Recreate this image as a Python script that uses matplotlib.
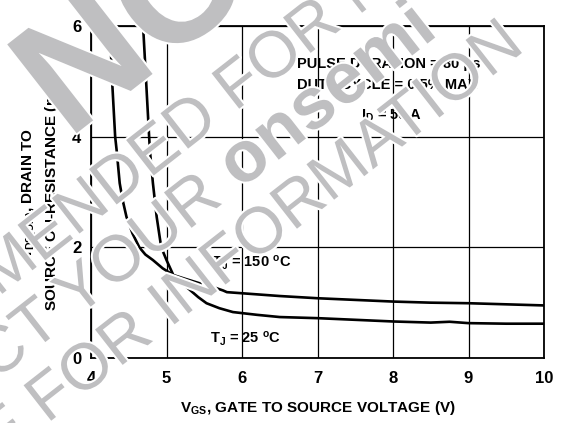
import matplotlib
matplotlib.use("Agg")
import matplotlib.pyplot as plt
import matplotlib.patheffects as pe
import math

# ---- data ----
vgs_25 = [4.25, 4.28, 4.32, 4.34, 4.38, 4.42, 4.47, 4.55, 4.64, 4.72, 4.82, 4.95, 5.09,
          5.20, 5.31, 5.42, 5.53, 5.70, 5.88, 6.2, 6.5, 7.0, 7.5, 8.0, 8.5, 8.75, 9.0, 9.5, 10.0]
r_25 = [6.0, 5.0, 4.0, 3.75, 3.16, 2.85, 2.55, 2.25, 2.0, 1.87, 1.77, 1.62, 1.5,
        1.36, 1.23, 1.10, 0.99, 0.90, 0.83, 0.78, 0.74, 0.72, 0.69, 0.66, 0.64, 0.655, 0.63, 0.62, 0.62]

vgs_150 = [4.69, 4.73, 4.77, 4.78, 4.82, 4.87, 4.93, 5.0, 5.09, 5.25, 5.44, 5.6, 5.75,
           5.8, 6.0, 6.5, 7.0, 7.5, 8.0, 8.5, 9.0, 9.5, 10.0]
r_150 = [6.0, 5.0, 4.0, 3.75, 3.16, 2.55, 2.0, 1.77, 1.5, 1.43, 1.35, 1.29, 1.22,
         1.19, 1.17, 1.12, 1.08, 1.05, 1.02, 1.0, 0.99, 0.97, 0.95]

x_ticks = [4, 5, 6, 7, 8, 9, 10]
y_ticks = [0, 2, 4, 6]

plt.rcParams['font.family'] = ['Liberation Sans', 'DejaVu Sans']
plt.rcParams['font.weight'] = 'bold'
plt.rcParams['mathtext.fontset'] = 'custom'
plt.rcParams['mathtext.rm'] = 'Liberation Sans:bold'
plt.rcParams['mathtext.it'] = 'Liberation Sans:bold'
plt.rcParams['mathtext.bf'] = 'Liberation Sans:bold'

fig = plt.figure(figsize=(5.63, 4.23), dpi=100)
ax = fig.add_axes([91/563, 1-358/423, 453/563, 332/423])

ax.plot(vgs_25, r_25, color='black', lw=1.9, solid_capstyle='round', zorder=3)
ax.plot(vgs_150, r_150, color='black', lw=1.9, solid_capstyle='round', zorder=3)

ax.set_xlim(4, 10)
ax.set_ylim(0, 6)
ax.set_xticks(x_ticks)
ax.set_yticks(y_ticks)
ax.tick_params(length=0, labelsize=12)
ax.tick_params(axis='x', pad=9)
ax.tick_params(axis='y', pad=7)
for lab in ax.get_xticklabels() + ax.get_yticklabels():
    lab.set_fontweight('bold')
ax.grid(True, color='black', lw=0.9)
for s in ax.spines.values():
    s.set_linewidth(1.3)

ax.set_xlabel(r'V$_{\mathregular{GS}}$, GATE TO SOURCE VOLTAGE (V)', fontsize=11,
              fontweight='bold', labelpad=10)
ax.set_ylabel('r$_{\\mathregular{DS(ON)}}$, DRAIN TO\nSOURCE ON-RESISTANCE (m$\\Omega$)',
              fontsize=11, fontweight='bold', labelpad=8, linespacing=1.3)

ax.text(297/563, 1-64/423, 'PULSE DURATION = 80 \u03bcs', transform=fig.transFigure,
        fontsize=10.5, fontweight='bold', ha='left', va='center')
ax.text(297/563, 1-85/423, 'DUTY CYCLE = 0.5% MAX', transform=fig.transFigure,
        fontsize=10.5, fontweight='bold', ha='left', va='center')
ax.text(392/563, 1-116/423, r'I$_{\mathregular{D}}$ = 50 A', transform=fig.transFigure,
        fontsize=10.5, fontweight='bold', ha='center', va='center')
ax.text(212/563, 1-263/423, r'T$_{\mathregular{J}}$ = 150 $^{\mathregular{o}}$C', transform=fig.transFigure,
        fontsize=10.5, fontweight='bold', ha='left', va='center')
ax.text(210/563, 1-339/423, r'T$_{\mathregular{J}}$ = 25 $^{\mathregular{o}}$C', transform=fig.transFigure,
        fontsize=10.5, fontweight='bold', ha='left', va='center')

# ---- watermark ----
wm = '#bfbfc1'
halo = [pe.withStroke(linewidth=3, foreground='white')]
def wtext(x, y, s, size, weight='normal', ha='left', gap=0, ang=38):
    # gap: shift (px) along the baseline direction
    ca, sa = math.cos(math.radians(ang)), math.sin(math.radians(ang))
    x = x + gap * ca
    y = y - gap * sa
    fig.text(x/563, 1-y/423, s, rotation=ang, rotation_mode='anchor', ha=ha,
             va='baseline', fontsize=size, fontweight=weight, color=wm,
             family=['Liberation Sans'], path_effects=halo, zorder=20)

TS = 47
wtext(68, 140, 'NOT', 118, 'bold')
wtext(235, 112, 'FOR NEW DESIGN', TS)
wtext(235, 112, 'NOT RECOMMENDED', TS, ha='right', gap=-18)
wtext(240, 190, 'onsemi', 52, 'bold')
wtext(240, 190, 'CONTACT YOUR', TS, ha='right', gap=-20)
wtext(47, 424, 'FOR INFORMATION', TS)
wtext(47, 424, 'REPRESENTATIVE', TS, ha='right', gap=-18)

fig.savefig('out.png', dpi=100)
